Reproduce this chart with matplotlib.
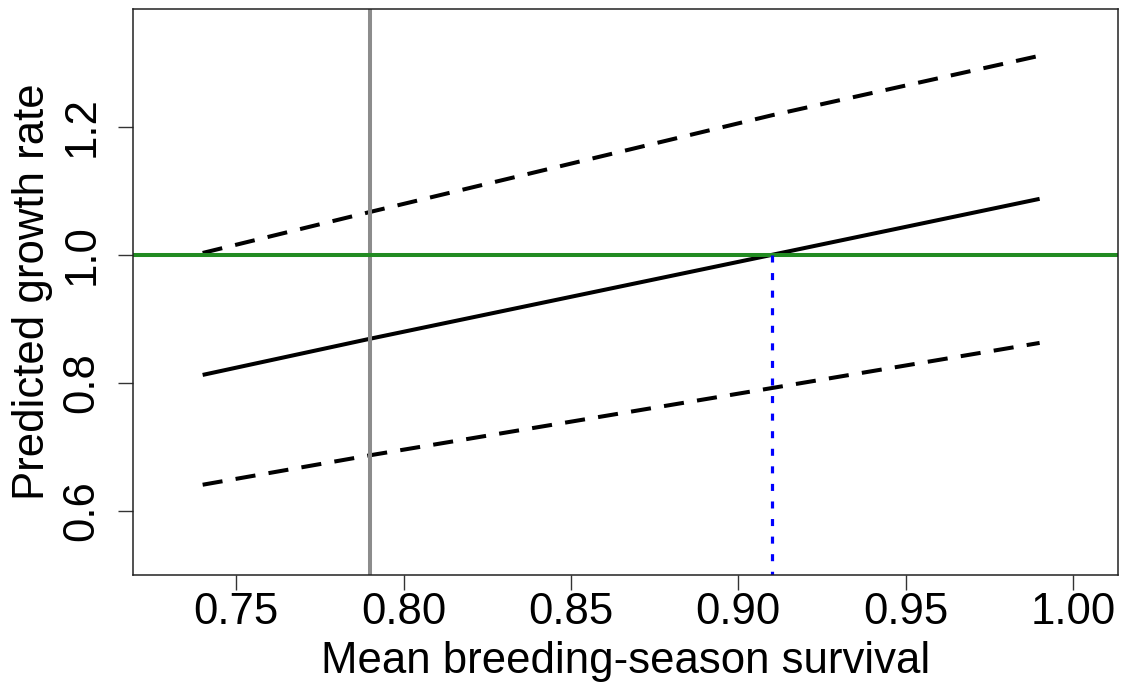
import matplotlib
matplotlib.use("Agg")
import matplotlib.pyplot as plt

# values
surv = [0.74, 0.79, 0.91, 0.99]
growth_mid = [0.8125, 0.869, 1.0, 1.0875]
growth_hi = [1.003, 1.067, 1.218, 1.311]
growth_lo = [0.641, 0.687, 0.792, 0.8625]
obs_surv = 0.79      # grey vertical
cross_surv = 0.91    # where the mean crosses 1
xticks = [0.75, 0.80, 0.85, 0.90, 0.95, 1.00]
yticks = [0.6, 0.8, 1.0, 1.2]

plt.rcParams['font.family'] = ['Liberation Sans', 'DejaVu Sans']

fig = plt.figure(figsize=(11.32, 6.87), dpi=100)
ax = fig.add_axes([0.1175, 0.163, 0.8701, 0.8239])

lw = 2.9
ax.plot(surv, growth_mid, color='black', lw=lw, solid_capstyle='butt')
ax.plot(surv, growth_hi, color='black', lw=lw, dashes=(5, 3.3), dash_capstyle='butt')
ax.plot(surv, growth_lo, color='black', lw=lw, dashes=(5, 3.3), dash_capstyle='butt')

ax.axvline(obs_surv, color='#8c8c8c', lw=2.9)
ax.axhline(1.0, color='#228b22', lw=2.9)
ax.plot([cross_surv, cross_surv], [1.0, 0.4], color='#0000ff', lw=2.3,
        dashes=(2.2, 3.3), dash_capstyle='butt')

ax.set_xlim(0.7192, 1.0134)
ax.set_ylim(0.5, 1.384)
ax.set_xticks(xticks)
ax.set_xticklabels(['%.2f' % v for v in xticks])
ax.set_yticks(yticks)
ax.set_yticklabels(['%.1f' % v for v in yticks], rotation=90, va='center')

ax.tick_params(axis='both', length=11, width=1, color='#333333', labelsize=31.5)
ax.tick_params(axis='x', pad=1)
ax.tick_params(axis='y', pad=11)
for s in ax.spines.values():
    s.set_linewidth(1.1)
    s.set_color('#222222')

ax.set_xlabel('Mean breeding-season survival', fontsize=31.5, labelpad=6)
ax.set_ylabel('Predicted growth rate', fontsize=31.5, labelpad=6)

fig.savefig('out.png', dpi=100)
